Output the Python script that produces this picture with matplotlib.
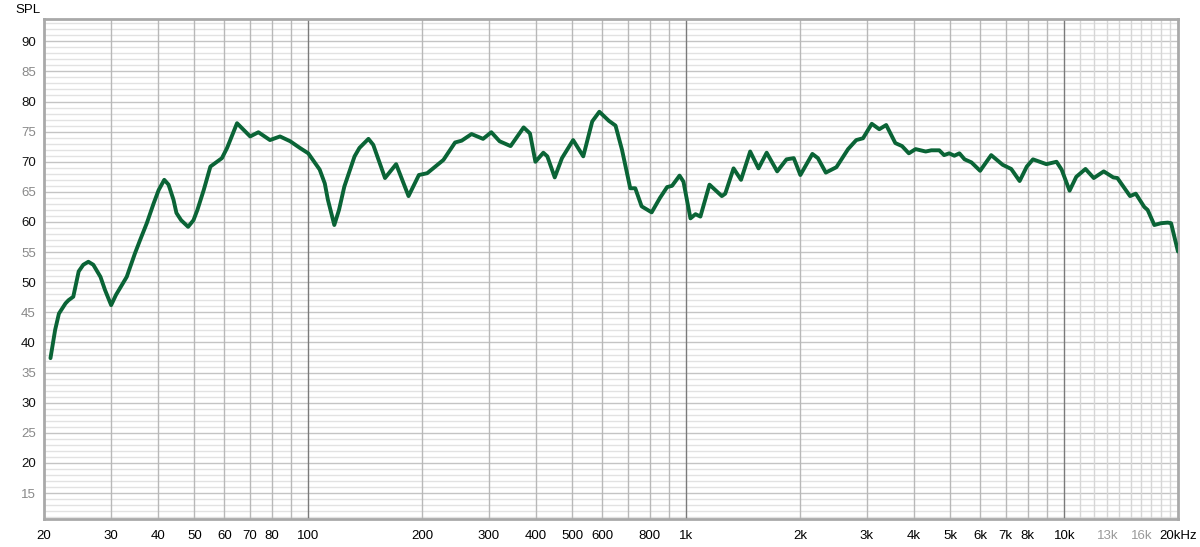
import numpy as np
from matplotlib import pyplot as plt
from matplotlib.ticker import FixedLocator, NullFormatter

plt.rcParams['font.family'] = ['Liberation Sans', 'DejaVu Sans']

# frequency response (Hz, dB SPL)
freq = [20.8, 21.4, 21.9, 22.8, 23.2, 23.9, 24.7, 25.4, 26.2, 27.0, 28.2, 29.0,
        30.1, 31.0, 33.1, 34.8, 35.9, 37.4, 39.0, 40.2, 41.6, 42.7, 44.0, 44.8,
        46.1, 48.1, 49.7, 50.9, 52.9, 55.1, 59.1, 61.0, 64.8, 70.2, 73.8, 79.2,
        84.2, 89.6, 95.0, 100,
        107.2, 110.6, 112.7, 117.2, 120.6, 124.6, 132.6, 136.6, 144.3, 148.6, 159.6, 170.8,
        184.2, 196.2, 206.4, 227.8, 244.6, 254.6, 270.4, 290, 305, 320.8, 343,
        371.4, 386, 399, 418.7, 429, 448.8, 469, 502, 534, 564, 589, 624, 650,
        676, 711, 733, 762, 810, 852, 890, 917, 960, 983, 1026, 1058, 1090,
        1152, 1242, 1268, 1334, 1396, 1476, 1553, 1632, 1740, 1842, 1925, 2004,
        2156, 2230, 2340, 2496, 2680, 2817, 2935, 3096, 3241, 3380, 3574, 3723,
        3880, 4043, 4300, 4450, 4670, 4810, 4960, 5120, 5280, 5450, 5680, 5990,
        6408, 6870, 7240, 7620, 7960, 8266, 8970, 9540, 9840, 10330, 10760,
        11380, 11970, 12720, 13480, 13820, 14930, 15460, 16280, 16620, 17310,
        18030, 18780, 19170, 19990]
spl = [37.4, 42.1, 44.8, 46.5, 47.0, 47.6, 51.8, 52.9, 53.4, 52.9, 50.9, 48.7,
       46.2, 47.9, 50.9, 54.8, 57.0, 59.8, 63.1, 65.3, 67.0, 66.2, 63.7, 61.5,
       60.3, 59.2, 60.3, 62.0, 65.3, 69.2, 70.6, 72.3, 76.4, 74.2, 74.9, 73.6,
       74.2, 73.4, 72.3, 71.4,
       68.7, 66.4, 63.7, 59.5, 62.0, 65.9, 70.9, 72.3, 73.8, 72.8, 67.3, 69.6,
       64.3, 67.8, 68.1, 70.3, 73.2, 73.5, 74.6, 73.8, 74.9, 73.4, 72.6,
       75.7, 74.7, 70.0, 71.5, 70.9, 67.4, 70.6, 73.6, 70.9, 76.7, 78.3, 76.8, 76.0,
       72.0, 65.6, 65.6, 62.6, 61.6, 64.0, 65.8, 66.0, 67.7, 66.7, 60.6, 61.3, 60.9,
       66.2, 64.3, 64.7, 68.9, 67.0, 71.7, 68.9, 71.5, 68.4, 70.4, 70.6, 67.8,
       71.3, 70.6, 68.2, 69.1, 72.1, 73.6, 73.9, 76.3, 75.4, 76.1, 73.1, 72.6,
       71.4, 72.1, 71.7, 71.9, 71.9, 71.1, 71.4, 71.0, 71.4, 70.4, 69.9, 68.5,
       71.1, 69.5, 68.8, 66.8, 69.2, 70.4, 69.6, 70.0, 68.7, 65.2, 67.5,
       68.8, 67.3, 68.4, 67.4, 67.3, 64.3, 64.7, 62.5, 62.0, 59.5,
       59.8, 59.9, 59.8, 55.1]

xtick_vals = [20, 30, 40, 50, 60, 70, 80, 100, 200, 300, 400, 500, 600, 800,
              1000, 2000, 3000, 4000, 5000, 6000, 7000, 8000, 10000, 13000,
              16000, 20000]
xtick_labels = ['20', '30', '40', '50', '60', '70', '80', '100', '200', '300',
                '400', '500', '600', '800', '1k', '2k', '3k', '4k', '5k', '6k',
                '7k', '8k', '10k', '13k', '16k', '20kHz']
ytick_vals = [15, 20, 25, 30, 35, 40, 45, 50, 55, 60, 65, 70, 75, 80, 85, 90]

fig = plt.figure(figsize=(12, 5.47), dpi=100)
ax = fig.add_axes([0.0367, 0.0512, 0.945, 0.9141])
ax.set_xscale('log')
ax.set_xlim(20, 20000)
ax.set_ylim(10.7, 93.7)

# grid
for d in np.arange(11, 94):
    c = '#c4c4c4' if d % 5 == 0 else '#e2e2e2'
    ax.axhline(d, color=c, lw=1, zorder=1)
mid = [30, 40, 50, 60, 70, 80, 90, 200, 300, 400, 500, 600, 700, 800, 900,
       2000, 3000, 4000, 5000, 6000, 7000, 8000, 9000]
for f in mid:
    ax.axvline(f, color='#b8b8b8', lw=1, zorder=1)
for f in range(11000, 20000, 1000):
    ax.axvline(f, color='#d6d6d6', lw=1, zorder=1)
for f in [100, 1000, 10000]:
    ax.axvline(f, color='#7a7a7a', lw=1, zorder=1)

ax.plot(freq, spl, color='#0a6436', lw=2.8, solid_joinstyle='round',
        solid_capstyle='round', zorder=3)

ax.xaxis.set_minor_formatter(NullFormatter())
ax.xaxis.set_minor_locator(FixedLocator([]))
ax.set_xticks(xtick_vals)
ax.set_xticklabels(xtick_labels)
ax.set_yticks(ytick_vals)
ax.set_yticklabels([str(v) for v in ytick_vals])
ax.tick_params(axis='both', length=0, labelsize=9.5)
ax.tick_params(axis='x', pad=8)
ax.tick_params(axis='y', pad=6)
for lab in ax.get_xticklabels():
    if lab.get_text() in ('13k', '16k'):
        lab.set_color('#999999')
for lab, v in zip(ax.get_yticklabels(), ytick_vals):
    lab.set_color('#111111' if v % 10 == 0 else '#888888')

for s in ax.spines.values():
    s.set_color('#a9a9a9')
    s.set_linewidth(2)

fig.text(0.0233, 0.982, 'SPL', fontsize=9.5, ha='center', va='center')

plt.savefig('out.png', dpi=100)
